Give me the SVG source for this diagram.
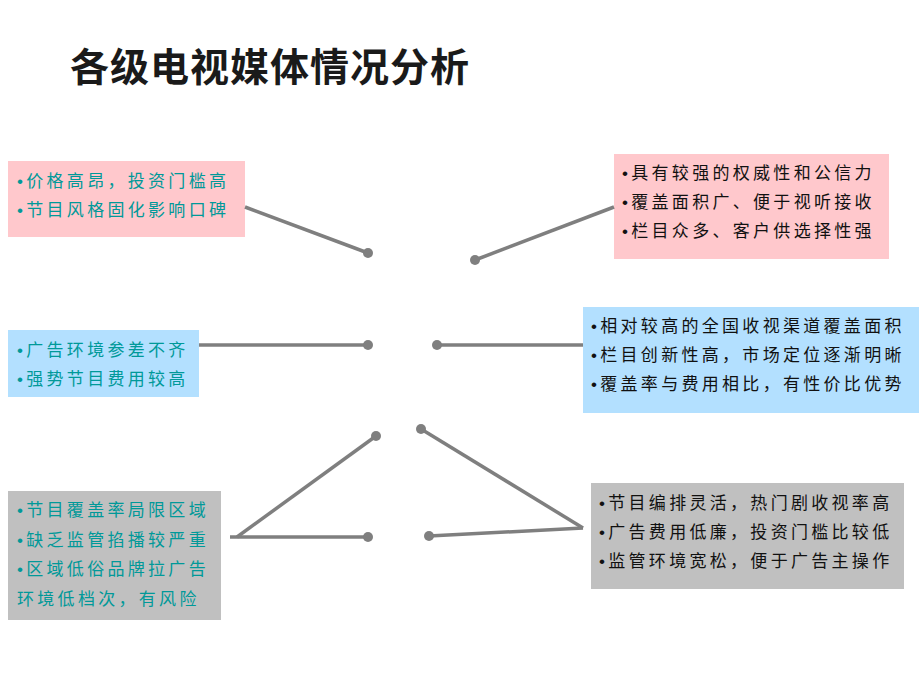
<svg xmlns="http://www.w3.org/2000/svg" width="920" height="690" viewBox="0 0 920 690">
<style>
.t{font-family:"Liberation Sans","Noto Sans CJK SC",sans-serif;font-size:17px;letter-spacing:3.3px}
.l{fill:#009999}.r{fill:#111}
.c line{stroke:#7f7f7f;stroke-width:3.5}
.c circle{fill:#7f7f7f}
</style>
<rect width="920" height="690" fill="#fff"/>
<text x="70" y="81" font-family="'Noto Sans CJK SC',sans-serif" font-size="39" font-weight="bold" fill="#1a1a1a" letter-spacing="1">各级电视媒体情况分析</text>
<g id="n1"><rect x="8" y="161" width="237" height="76" fill="#FFC8CC"/>
<text class="t l" x="17" y="187">•价格高昂，投资门槛高</text><text class="t l" x="17" y="216">•节目风格固化影响口碑</text></g>
<g id="n2"><rect x="8" y="330" width="191" height="67" fill="#B3E0FF"/>
<text class="t l" x="17" y="356">•广告环境参差不齐</text><text class="t l" x="17" y="385">•强势节目费用较高</text></g>
<g id="n3"><rect x="8" y="491" width="213" height="129" fill="#C0C0C0"/>
<text class="t l" x="17" y="516">•节目覆盖率局限区域</text><text class="t l" x="17" y="546">•缺乏监管掐播较严重</text><text class="t l" x="17" y="575">•区域低俗品牌拉广告</text><text class="t l" x="17" y="605">环境低档次，有风险</text></g>
<g id="n4"><rect x="614" y="154" width="275" height="105" fill="#FFC8CC"/>
<text class="t r" x="622" y="179">•具有较强的权威性和公信力</text><text class="t r" x="622" y="208">•覆盖面积广、便于视听接收</text><text class="t r" x="622" y="237">•栏目众多、客户供选择性强</text></g>
<g id="n5"><rect x="583" y="307" width="336" height="106" fill="#B3E0FF"/>
<text class="t r" x="591" y="332">•相对较高的全国收视渠道覆盖面积</text><text class="t r" x="591" y="361">•栏目创新性高，市场定位逐渐明晰</text><text class="t r" x="591" y="390">•覆盖率与费用相比，有性价比优势</text></g>
<g id="n6"><rect x="591" y="483" width="313" height="106" fill="#C0C0C0"/>
<text class="t r" x="599" y="509">•节目编排灵活，热门剧收视率高</text><text class="t r" x="599" y="538">•广告费用低廉，投资门槛比较低</text><text class="t r" x="599" y="567">•监管环境宽松，便于广告主操作</text></g>
<g class="c" id="connectors">
<line x1="245" y1="207" x2="368" y2="253"/><circle cx="368" cy="253" r="5"/>
<line x1="199" y1="345" x2="368" y2="345"/><circle cx="368" cy="345" r="5"/>
<line x1="230" y1="537" x2="368" y2="537"/><circle cx="368" cy="537" r="5"/>
<line x1="237" y1="537" x2="376" y2="436"/><circle cx="376" cy="436" r="5"/>
<line x1="614" y1="207" x2="475" y2="260"/><circle cx="475" cy="260" r="5"/>
<line x1="583" y1="345" x2="437" y2="345"/><circle cx="437" cy="345" r="5"/>
<line x1="583" y1="528" x2="421" y2="429"/><circle cx="421" cy="429" r="5"/>
<line x1="583" y1="528" x2="429" y2="536"/><circle cx="429" cy="536" r="5"/>
</g>
</svg>
